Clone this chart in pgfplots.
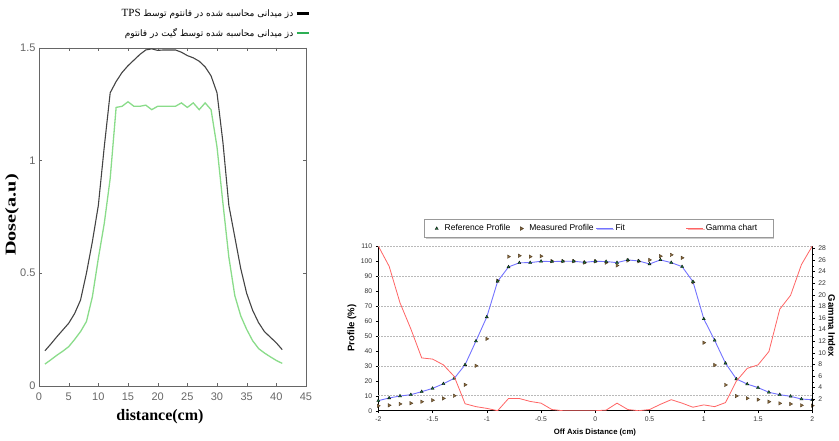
\documentclass[border=0pt]{standalone}
\usepackage{fontspec}
\setmainfont{Liberation Sans}
\newfontfamily\serifb{Liberation Serif}
\newfontfamily\arabicfont[Script=Arabic]{DejaVu Sans}
\TeXXeTstate=1
\usepackage{pgfplots}
\pgfplotsset{compat=1.18}
\usetikzlibrary{shadows}
\definecolor{TpsGray}{HTML}{444444}
\definecolor{GateGreen}{HTML}{8ADC8A}
\definecolor{LegGreen}{HTML}{2EAF55}
\definecolor{FitBlue}{HTML}{7373FF}
\definecolor{GamRed}{HTML}{FF6464}
\definecolor{RefGreen}{HTML}{1E7B3C}
\definecolor{MeasBrown}{HTML}{8B6A3E}
\pgfplotsset{
  dash legend/.style={legend image code/.code={\draw[##1, line width=2.5pt] (0pt,0pt) -- (12pt,0pt);}},
  short legend/.style={legend image code/.code={\draw[##1] (0pt,0pt) -- (17pt,0pt);}},
  mark legend/.style={legend image code/.code={%
    \pgfpathmoveto{\pgfpointorigin}\pgfpathlineto{\pgfpoint{10pt}{0pt}}\pgfusepath{}%
    \draw[##1] plot coordinates {(4pt,0pt)};}},
}

% left chart: dose profiles (x10^-9)
\pgfplotstableread{
x    tps    gate
1    0.155  0.096
2    0.185  0.115
3    0.217  0.135
4    0.247  0.153
5    0.277  0.173
6    0.320  0.205
7    0.380  0.240
8    0.500  0.285
9    0.640  0.395
10   0.800  0.565
11   1.060  0.720
12   1.300  0.920
13   1.350  1.235
14   1.390  1.240
15   1.420  1.260
16   1.445  1.240
17   1.470  1.240
18   1.490  1.245
19   1.495  1.225
20   1.488  1.240
21   1.490  1.240
22   1.490  1.240
23   1.490  1.240
24   1.480  1.255
25   1.465  1.235
26   1.455  1.255
27   1.440  1.225
28   1.415  1.255
29   1.375  1.225
30   1.300  1.060
31   1.080  0.810
32   0.800  0.570
33   0.660  0.400
34   0.520  0.310
35   0.410  0.250
36   0.335  0.200
37   0.280  0.165
38   0.240  0.145
39   0.215  0.128
40   0.190  0.112
41   0.160  0.099
}\doseprofiles

% right chart: reference / measured profile (%) and gamma index
\pgfplotstableread{
x     ref    meas   gamma
-2.0  6.7    3.3    28.4
-1.9  8.5    3.6    24.9
-1.8  9.8    4.5    18.6
-1.7  10.7   5.0    14.1
-1.6  12.7   6.0    9.1
-1.5  14.9   7.0    8.9
-1.4  18.0   8.2    7.9
-1.3  21.6   10.0   5.9
-1.2  30.7   17.3   1.2
-1.1  46.5   30.0   0.7
-1.0  62.6   48.0   0.4
-0.9  86.4   86.8   0.0
-0.8  96.0   102.9  2.1
-0.7  98.8   103.5  2.1
-0.6  98.9   102.9  1.6
-0.5  99.8   103.2  1.3
-0.4  99.6   99.9   0.2
-0.3  99.8   99.9   0.0
-0.2  99.8   99.9   0.0
-0.1  99.1   98.9   0.0
0.0   99.8   99.8   0.0
0.1   99.6   98.9   0.1
0.2   98.9   97.0   1.3
0.3   100.7  100.3  0.2
0.4   100.0  99.8   0.0
0.5   98.0   100.7  0.2
0.6   100.7  103.2  1.1
0.7   98.9   104.1  1.9
0.8   96.2   102.1  1.3
0.9   86.2   85.8   0.6
1.0   61.3   45.4   1.0
1.1   47.0   30.5   0.7
1.2   31.7   17.2   1.4
1.3   21.2   9.8    5.1
1.4   17.8   8.3    7.3
1.5   15.4   7.4    7.9
1.6   12.3   6.0    10.2
1.7   10.7   4.9    17.5
1.8   9.6    4.5    19.9
1.9   7.8    3.6    25.2
2.0   7.3    3.4    28.4
}\gammaprofiles

\begin{document}
\begin{tikzpicture}
\useasboundingbox (0pt,0pt) rectangle (839pt,440pt);

% ---------- left chart ----------
\begin{axis}[
  at={(39pt,54.3pt)}, anchor=south west,
  scale only axis, width=267pt, height=338pt,
  xmin=0, xmax=45, ymin=0, ymax=1.5,
  xtick={0,5,...,45}, ytick={0,0.5,1,1.5},
  axis line style={black!60}, tick style={black!60},
  major tick length=3pt,
  /pgf/number format/assume math mode=true,
  tick label style={font=\fontsize{11}{12}\selectfont, text=black!60},
  xticklabel style={yshift=-4pt},
  xlabel={\serifb\bfseries distance(cm)},
  ylabel={\scalebox{1.35}[1]{\serifb\bfseries Dose(a.u)}},
  xlabel style={at={(axis description cs:0.453,-0.092)}, anchor=center, font=\fontsize{16}{18}\selectfont},
  ylabel style={at={(axis description cs:-0.101,0.505)}, anchor=center, font=\fontsize{15}{17}\selectfont},
  legend plot pos=right, legend cell align=right,
  legend style={at={(1.015,1.120)}, anchor=north east, draw=none, fill=none,
    inner sep=0pt, row sep=6pt, font=\fontsize{9}{11}\selectfont},
  dash legend,
]
\addlegendimage{black}
\addlegendentry{\arabicfont\beginR دز میدانی محاسبه شده در فانتوم توسط {\serifb\fontsize{11}{12}\selectfont\beginL TPS\endL}\endR}
\addlegendimage{LegGreen}
\addlegendentry{\arabicfont\beginR دز میدانی محاسبه شده توسط گیت در فانتوم\endR}
\addplot[forget plot, TpsGray, line width=1.1pt] table[x=x, y=tps] {\doseprofiles};
\addplot[forget plot, GateGreen, line width=1.3pt] table[x=x, y=gate] {\doseprofiles};
\node[anchor=south west, font=\fontsize{8}{9}\selectfont, text=black!60, inner sep=1pt] at (rel axis cs:0,1) {$\times10^{-9}$};
\end{axis}

% ---------- right chart: profile axis ----------
\begin{axis}[
  at={(378.3pt,29.3pt)}, anchor=south west,
  scale only axis, width=434pt, height=164.7pt,
  xmin=-2, xmax=2, ymin=0, ymax=110,
  axis x line*=bottom, axis y line*=left,
  axis line style={black, line width=1pt},
  xtick={-2,-1.5,-1,-0.5,0,0.5,1,1.5,2},
  xticklabels={-2,-1.5,-1,-0.5,0,0.5,1,1.5,2},
  ytick={0,10,...,110},
  extra y ticks={10,30,50,70,90,110}, extra y tick labels={},
  extra y tick style={grid=major, major tick length=0pt},
  major grid style={gray!55, line width=0.5pt, dash pattern=on 1.5pt off 1.5pt},
  tick align=outside, major tick length=2.5pt, tick style={black},
  /pgf/number format/assume math mode=true,
  tick label style={font=\fontsize{6.8}{8}\selectfont, text=black!80},
  xlabel={\bfseries Off Axis Distance (cm)},
  ylabel={\bfseries Profile (\%)},
  xlabel style={at={(axis description cs:0.499,-0.135)}, anchor=center, font=\fontsize{7.7}{9}\selectfont},
  ylabel style={at={(axis description cs:-0.0606,0.502)}, anchor=center, font=\fontsize{9.5}{11}\selectfont},
]
\addplot[FitBlue, line width=0.9pt] table[x=x, y=ref] {\gammaprofiles};
\addplot[only marks, mark=triangle*, mark size=2pt, mark options={rotate=-90, fill=MeasBrown, draw=MeasBrown!60!black}] table[x=x, y=meas] {\gammaprofiles};
\addplot[only marks, mark=triangle*, mark size=1.8pt, mark options={fill=RefGreen, draw=black, line width=0.3pt}] table[x=x, y=ref] {\gammaprofiles};
\end{axis}

% ---------- right chart: gamma axis ----------
\begin{axis}[
  at={(378.3pt,29.3pt)}, anchor=south west,
  scale only axis, width=434pt, height=164.7pt,
  xmin=-2, xmax=2, ymin=0, ymax=28.4,
  axis x line=none, axis y line*=right,
  axis line style={black, line width=1pt},
  ytick={2,4,...,28}, minor y tick num=1,
  tick align=outside, major tick length=2.5pt, minor tick length=1.5pt, tick style={black},
  /pgf/number format/assume math mode=true,
  tick label style={font=\fontsize{6.8}{8}\selectfont, text=black!80},
  ylabel={\bfseries Gamma Index},
  ylabel style={at={(axis description cs:1.045,0.514)}, anchor=center, rotate=180, font=\fontsize{9.5}{11}\selectfont},
  legend columns=4,
  legend style={at={(0.5085,1.106)}, anchor=center, draw=gray!80, line width=0.6pt,
    font=\fontsize{8.5}{10}\selectfont, inner xsep=8pt, inner ysep=3pt,
    drop shadow={shadow xshift=1.2pt, shadow yshift=-1.2pt, fill=gray!80},
    /tikz/every even column/.style={column sep=0pt}},
  short legend,
]
\addlegendimage{only marks, mark=triangle*, mark size=1.8pt, mark options={fill=RefGreen, draw=black, line width=0.3pt}, mark legend}
\addlegendentry{Reference Profile\hspace*{5pt}\null}
\addlegendimage{only marks, mark=triangle*, mark size=2pt, mark options={rotate=-90, fill=MeasBrown, draw=MeasBrown!60!black}, mark legend}
\addlegendentry{Measured Profile}
\addlegendimage{FitBlue, line width=0.9pt}
\addlegendentry{Fit\hspace*{59pt}\null}
\addplot[GamRed, line width=0.8pt] table[x=x, y=gamma] {\gammaprofiles};
\addlegendentry{Gamma chart\hspace*{6pt}\null}
\end{axis}
\end{tikzpicture}
\end{document}
